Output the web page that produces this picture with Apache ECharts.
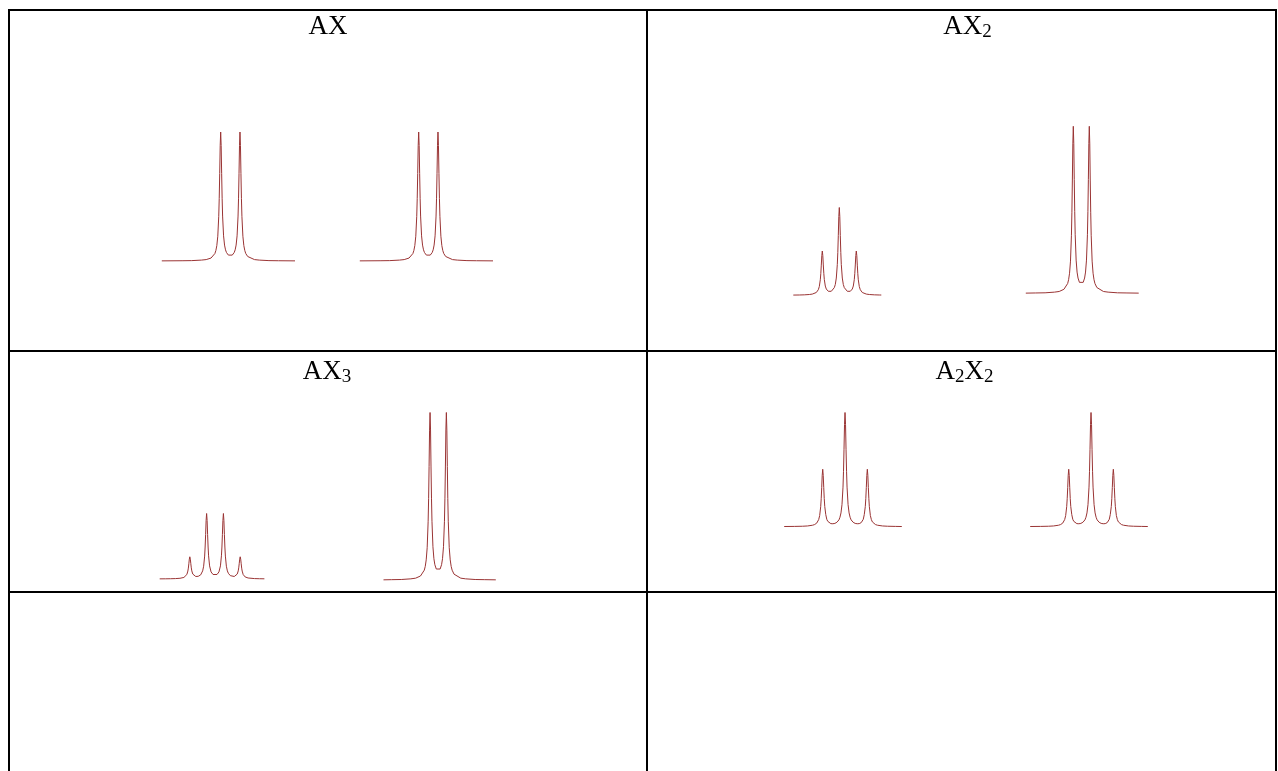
<!DOCTYPE html>
<html><head><meta charset="utf-8">
<script src="https://cdn.jsdelivr.net/npm/echarts@6/dist/echarts.min.js"></script>
<style>html,body{margin:0;padding:0;background:#fff;}#c{width:1278px;height:771px;}</style>
</head><body><div id="c"></div>
<script>
// Cell titles (rich text: m = main, s = subscript)
const cellTitles = ['{m|AX}', '{m|AX}{s|2}', '{m|AX}{s|3}', '{m|A}{s|2}{m|X}{s|2}'];

// Spectra: [offset from multiplet centre (Hz), relative intensity]
const axA = [[-71,0.1],[-50,0.2],[-40,0.3],[-30,0.7],[-25,1.1],[-20,2.3],[-18,3.5],[-16,5.8],[-15,8.1],[-14,12.0],[-13,19.3],[-12,34.8],[-11.5,48.8],[-11,68.2],[-10.5,89.9],[-10,100.5],[-9.5,89.9],[-9,68.3],[-8.5,48.9],[-8,35.0],[-7,19.6],[-6,12.4],[-5,8.7],[-4,6.6],[-2,4.6],[0,4.1],[2,4.6],[4,6.6],[5,8.7],[6,12.4],[7,19.6],[8,35.0],[8.5,48.9],[9,68.3],[9.5,89.9],[10,100.5],[10.5,89.9],[11,68.2],[11.5,48.8],[12,34.8],[13,19.3],[14,12.0],[15,8.1],[16,5.8],[18,3.5],[20,2.3],[25,1.1],[30,0.7],[40,0.3],[50,0.2],[67,0.1]];
const axX = [[-71,0.1],[-50,0.2],[-40,0.3],[-30,0.7],[-25,1.1],[-20,2.3],[-18,3.5],[-16,5.8],[-15,8.1],[-14,12.0],[-13,19.3],[-12,34.8],[-11.5,48.8],[-11,68.2],[-10.5,89.9],[-10,100.5],[-9.5,89.9],[-9,68.3],[-8.5,48.9],[-8,35.0],[-7,19.6],[-6,12.4],[-5,8.7],[-4,6.6],[-2,4.6],[0,4.1],[2,4.6],[4,6.6],[5,8.7],[6,12.4],[7,19.6],[8,35.0],[8.5,48.9],[9,68.3],[9.5,89.9],[10,100.5],[10.5,89.9],[11,68.2],[11.5,48.8],[12,34.8],[13,19.3],[14,12.0],[15,8.1],[16,5.8],[18,3.5],[20,2.3],[25,1.1],[30,0.7],[40,0.3],[50,0.2],[67,0.1]];
const ax2A = [[-46,0.13],[-40,0.18],[-35,0.27],[-30,0.45],[-27,0.7],[-25,1.0],[-23,1.6],[-22,2.2],[-21,3.2],[-20,5.0],[-19,8.9],[-18.5,12.4],[-18,17.3],[-17.5,22.7],[-17,25.4],[-16.5,22.8],[-16,17.4],[-15.5,12.6],[-15,9.1],[-14,5.3],[-13,3.6],[-12,2.7],[-11,2.3],[-10,2.1],[-9,2.15],[-8,2.3],[-6,3.3],[-5,4.4],[-4,6.2],[-3,9.9],[-2,17.6],[-1.5,24.5],[-1,34.2],[-0.5,45.1],[0,50.35],[0.5,45.1],[1,34.2],[1.5,24.5],[2,17.6],[3,9.9],[4,6.2],[5,4.4],[6,3.3],[8,2.3],[9,2.15],[10,2.1],[11,2.3],[12,2.7],[13,3.6],[14,5.3],[15,9.1],[15.5,12.6],[16,17.4],[16.5,22.8],[17,25.4],[17.5,22.7],[18,17.3],[18.5,12.4],[19,8.9],[20,5.0],[21,3.2],[22,2.2],[23,1.6],[25,1.0],[27,0.7],[30,0.45],[35,0.27],[40,0.18],[42,0.16]];
const ax2X = [[-59,0.1],[-48.5,0.2],[-38.5,0.3],[-28.5,0.7],[-23.5,1.1],[-18.5,2.4],[-16.5,3.5],[-14.5,5.9],[-13.5,8.2],[-12.5,12.1],[-11.5,19.4],[-10.5,35.0],[-10,48.9],[-9.5,68.3],[-9,90.1],[-8.5,100.7],[-8,90.2],[-7.5,68.5],[-7,49.2],[-6.5,35.3],[-5.5,20.0],[-4.5,12.8],[-3.5,9.2],[-2,6.6],[0,5.6],[2,6.6],[3.5,9.2],[4.5,12.8],[5.5,20.0],[6.5,35.3],[7,49.2],[7.5,68.5],[8,90.2],[8.5,100.7],[9,90.1],[9.5,68.3],[10,48.9],[10.5,35.0],[11.5,19.4],[12.5,12.1],[13.5,8.2],[14.5,5.9],[16.5,3.5],[18.5,2.4],[23.5,1.1],[28.5,0.7],[38.5,0.3],[48.5,0.2],[61,0.1]];
const ax3A = [[-56,0.09],[-50,0.11],[-45,0.16],[-40,0.24],[-35.5,0.41],[-33.5,0.58],[-31.5,0.9],[-30.5,1.2],[-29.5,1.7],[-28.5,2.6],[-27.5,4.6],[-27,6.3],[-26.5,8.8],[-26,11.5],[-25.5,12.85],[-25,11.5],[-24.5,8.85],[-24,6.45],[-23.5,4.7],[-22.5,2.85],[-21.5,2.0],[-19.5,1.45],[-17,1.55],[-15.5,1.95],[-14.5,2.4],[-13.5,3.3],[-12.5,4.7],[-11.5,7.4],[-10.5,13.25],[-10,18.5],[-9.5,25.75],[-9,33.9],[-8.5,37.9],[-8,33.9],[-7.5,25.8],[-7,18.5],[-6.5,13.4],[-5.5,7.6],[-4,4.1],[-2,2.6],[0,2.2],[2,2.6],[4,4.1],[5.5,7.6],[6.5,13.4],[7,18.5],[7.5,25.8],[8,33.9],[8.5,37.9],[9,33.9],[9.5,25.75],[10,18.5],[10.5,13.25],[11.5,7.4],[12.5,4.7],[13.5,3.3],[14.5,2.4],[15.5,1.95],[17,1.55],[19.5,1.45],[21.5,2.0],[22.5,2.85],[23.5,4.7],[24,6.45],[24.5,8.85],[25,11.5],[25.5,12.85],[26,11.5],[26.5,8.8],[27,6.3],[27.5,4.6],[28.5,2.6],[29.5,1.7],[30.5,1.2],[31.5,0.9],[33.5,0.58],[35.5,0.41],[40,0.24],[45,0.16],[50,0.11]];
const ax3X = [[-57,0.1],[-48.5,0.2],[-38.5,0.3],[-28.5,0.7],[-23.5,1.1],[-18.5,2.4],[-16.5,3.5],[-14.5,5.9],[-13.5,8.2],[-12.5,12.1],[-11.5,19.4],[-10.5,35.0],[-10,48.9],[-9.5,68.3],[-9,90.1],[-8.5,100.7],[-8,90.2],[-7.5,68.5],[-7,49.2],[-6.5,35.3],[-5.5,20.0],[-4.5,12.8],[-3.5,9.2],[-2,6.6],[0,5.6],[2,6.6],[3.5,9.2],[4.5,12.8],[5.5,20.0],[6.5,35.3],[7,49.2],[7.5,68.5],[8,90.2],[8.5,100.7],[9,90.1],[9.5,68.3],[10,48.9],[10.5,35.0],[11.5,19.4],[12.5,12.1],[13.5,8.2],[14.5,5.9],[16.5,3.5],[18.5,2.4],[23.5,1.1],[28.5,0.7],[38.5,0.3],[48.5,0.2],[60,0.1]];
const a2x2A = [[-60,0.17],[-50,0.25],[-42,0.4],[-37,0.65],[-32,1.3],[-30,1.9],[-28,3.1],[-27,4.2],[-26,6.2],[-25,9.8],[-24,17.6],[-23.5,24.6],[-23,34.3],[-22.5,45.2],[-22,50.5],[-21.5,45.2],[-21,34.4],[-20.5,24.7],[-20,17.8],[-19,10.7],[-18,6.5],[-17,4.7],[-16,3.6],[-14,2.7],[-12,2.6],[-11,2.7],[-10,2.9],[-8,3.9],[-6,6.0],[-5,8.3],[-4,12.1],[-3,19.4],[-2,34.8],[-1.5,48.7],[-1,68.1],[-0.5,89.8],[0,100.4],[0.5,89.8],[1,68.1],[1.5,48.7],[2,34.8],[3,19.4],[4,12.1],[5,8.3],[6,6.0],[8,3.9],[10,2.9],[11,2.7],[12,2.6],[14,2.7],[16,3.6],[17,4.7],[18,6.5],[19,10.7],[20,17.8],[20.5,24.7],[21,34.4],[21.5,45.2],[22,50.5],[22.5,45.2],[23,34.3],[23.5,24.6],[24,17.6],[25,9.8],[26,6.2],[27,4.2],[28,3.1],[30,1.9],[32,1.3],[37,0.65],[42,0.4],[50,0.25],[56,0.16]];
const a2x2X = [[-60,0.17],[-50,0.25],[-42,0.4],[-37,0.65],[-32,1.3],[-30,1.9],[-28,3.1],[-27,4.2],[-26,6.2],[-25,9.8],[-24,17.6],[-23.5,24.6],[-23,34.3],[-22.5,45.2],[-22,50.5],[-21.5,45.2],[-21,34.4],[-20.5,24.7],[-20,17.8],[-19,10.7],[-18,6.5],[-17,4.7],[-16,3.6],[-14,2.7],[-12,2.6],[-11,2.7],[-10,2.9],[-8,3.9],[-6,6.0],[-5,8.3],[-4,12.1],[-3,19.4],[-2,34.8],[-1.5,48.7],[-1,68.1],[-0.5,89.8],[0,100.4],[0.5,89.8],[1,68.1],[1.5,48.7],[2,34.8],[3,19.4],[4,12.1],[5,8.3],[6,6.0],[8,3.9],[10,2.9],[11,2.7],[12,2.6],[14,2.7],[16,3.6],[17,4.7],[18,6.5],[19,10.7],[20,17.8],[20.5,24.7],[21,34.4],[21.5,45.2],[22,50.5],[22.5,45.2],[23,34.3],[23.5,24.6],[24,17.6],[25,9.8],[26,6.2],[27,4.2],[28,3.1],[30,1.9],[32,1.3],[37,0.65],[42,0.4],[50,0.25],[56,0.16]];

// Layout (pixels) — separate from data
const titleLayout = [
  {x: 328, y: 11},
  {x: 967.5, y: 11},
  {x: 327, y: 356},
  {x: 964.5, y: 356}
];
const spectraLayout = [
  {data: axA,   left: 161.8,  top: 132,   width: 133.2, height: 129},
  {data: axX,   left: 359.8,  top: 132,   width: 133.2, height: 129},
  {data: ax2A,  left: 793.3,  top: 207.5, width: 88,    height: 87.8},
  {data: ax2X,  left: 1025.8, top: 126.3, width: 112.9, height: 167},
  {data: ax3A,  left: 159.7,  top: 513.5, width: 104.7, height: 65.5},
  {data: ax3X,  left: 383.5,  top: 412.5, width: 112.3, height: 167.5},
  {data: a2x2A, left: 784.2,  top: 412.5, width: 117.6, height: 114.2},
  {data: a2x2X, left: 1030.2, top: 412.5, width: 117.6, height: 114.2}
];
const lineColor = '#9a3434';
const serif = '"Liberation Serif", "DejaVu Serif", serif';

const grid = [], xAxis = [], yAxis = [], series = [];
spectraLayout.forEach((s, i) => {
  grid.push({left: s.left, top: s.top, width: s.width, height: s.height, containLabel: false});
  xAxis.push({type: 'value', gridIndex: i, min: 'dataMin', max: 'dataMax', show: false});
  yAxis.push({type: 'value', gridIndex: i, min: 0, max: 'dataMax', show: false});
  series.push({
    type: 'line', xAxisIndex: i, yAxisIndex: i, data: s.data,
    showSymbol: false, symbol: 'none', smooth: false, clip: false,
    lineStyle: {color: lineColor, width: 1}, silent: true
  });
});

const title = cellTitles.map((t, i) => ({
  text: t, left: titleLayout[i].x, top: titleLayout[i].y, textAlign: 'center', padding: 0,
  textStyle: {
    fontWeight: 'normal', fontFamily: serif,
    rich: {
      m: {fontFamily: serif, fontWeight: 'normal', fontSize: 27, lineHeight: 31, color: '#000'},
      s: {fontFamily: serif, fontWeight: 'normal', fontSize: 19, lineHeight: 15, verticalAlign: 'bottom', color: '#000'}
    }
  }
}));

const B = {stroke: '#000', lineWidth: 2};
const hLines = [10, 351, 592];
const vLines = [9, 647, 1276];
const graphic = [];
hLines.forEach(y => graphic.push({type: 'line', shape: {x1: 8, y1: y, x2: 1277, y2: y}, style: B, silent: true}));
vLines.forEach(x => graphic.push({type: 'line', shape: {x1: x, y1: 9, x2: x, y2: 771}, style: B, silent: true}));

const chart = echarts.init(document.getElementById('c'), null, {renderer: 'canvas'});
chart.setOption({
  animation: false,
  backgroundColor: '#fff',
  title, grid, xAxis, yAxis, series, graphic
});
</script></body></html>
